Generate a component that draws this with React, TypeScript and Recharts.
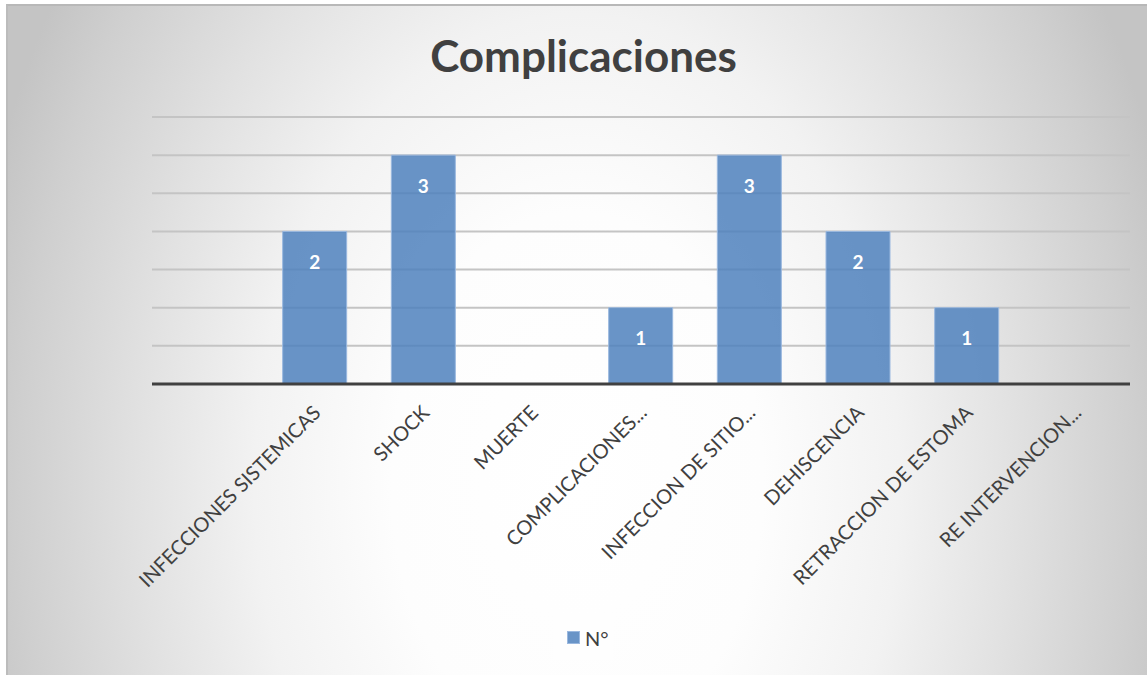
import React from 'react';
import { BarChart, Bar, XAxis, YAxis, CartesianGrid, LabelList, Legend } from 'recharts';

const title = 'Complicaciones';
const seriesName = 'N°';
const categories = [
  '',
  'INFECCIONES SISTEMICAS',
  'SHOCK',
  'MUERTE',
  'COMPLICACIONES...',
  'INFECCION DE SITIO...',
  'DEHISCENCIA',
  'RETRACCION DE ESTOMA',
  'RE INTERVENCION...',
];
const values: (number | null)[] = [null, 2, 3, null, 1, 3, 2, 1, null];
const yTicks = [0, 0.5, 1, 1.5, 2, 2.5, 3, 3.5];

const data = categories.map((c, i) => ({ name: c, value: values[i] }));

const FONT = 'Lato, "Open Sans", sans-serif';
const TEXT = '#404040';

const Tick = (props: any) => {
  const { x, y, payload } = props;
  return (
    <g transform={`translate(${x + 7},${y + 30})`}>
      <text
        transform="rotate(-45)"
        textAnchor="end"
        fill={TEXT}
        fontSize={20}
        fontFamily={FONT}
      >
        {payload.value}
      </text>
    </g>
  );
};

const renderLabel = (props: any) => {
  const { x, y, width, value } = props;
  if (value === null || value === undefined) return null;
  return (
    <text
      x={Number(x) + Number(width) / 2}
      y={Number(y) + 30}
      fill="#ffffff"
      fontSize={19}
      fontWeight="bold"
      fontFamily={FONT}
      textAnchor="middle"
      dominantBaseline="central"
    >
      {value}
    </text>
  );
};

const LegendContent = () => (
  <div
    style={{
      width: 60,
      height: 45,
      background: 'rgba(255,255,255,0.35)',
      display: 'flex',
      alignItems: 'center',
      fontFamily: FONT,
      fontSize: 20,
      color: TEXT,
    }}
  >
    <span
      style={{
        display: 'inline-block',
        width: 11,
        height: 11,
        background: 'rgba(79,129,189,0.85)',
        border: '1px solid #9ab8df',
        marginLeft: 14,
        marginRight: 5,
      }}
    />
    <span>{seriesName}</span>
  </div>
);

export default function App() {
  return (
    <div style={{ position: 'absolute', left: 0, top: 0, width: 1147, height: 675, background: '#fff' }}>
      <div
        style={{
          position: 'absolute',
          left: 6,
          top: 4,
          width: 1141,
          height: 671,
          boxSizing: 'border-box',
          borderTop: '2px solid #b8b8b8',
          borderLeft: '2px solid #bcbcbc',
          background:
            'radial-gradient(ellipse 620px 900px at 569px 476px, #ffffff 0%, #fdfdfd 30%, #f2f2f2 52%, #e2e2e2 70%, #cfcfcf 90%, #c4c4c4 100%)',
        }}
      />
      <div
        style={{
          position: 'absolute',
          left: 0,
          top: 33,
          width: 1167,
          textAlign: 'center',
          fontFamily: FONT,
          fontWeight: 'bold',
          fontSize: 44,
          lineHeight: '44px',
          color: TEXT,
        }}
      >
        {title}
      </div>
      <div style={{ position: 'absolute', left: 6, top: 4 }}>
        <BarChart
          width={1141}
          height={671}
          data={data}
          margin={{ top: 113, right: 17, bottom: 46, left: 146 }}
          barCategoryGap="20%"
        >
          <CartesianGrid vertical={false} stroke="#c4c4c4" strokeWidth={2} />
          <YAxis hide domain={[0, 3.5]} ticks={yTicks} />
          <XAxis
            dataKey="name"
            height={200}
            tick={<Tick />}
            tickLine={false}
            tickSize={0}
            tickMargin={0}
            interval={0}
            axisLine={{ stroke: '#404040', strokeWidth: 3 }}
          />
          <Legend
            content={<LegendContent />}
            wrapperStyle={{ position: 'absolute', left: 547, top: 611, width: 60, height: 45 }}
          />
          <Bar
            dataKey="value"
            name={seriesName}
            fill="#4f81bd"
            fillOpacity={0.85}
            stroke="#9ab8df"
            strokeWidth={1}
            barSize={64}
            isAnimationActive={false}
          >
            <LabelList dataKey="value" content={renderLabel} />
          </Bar>
        </BarChart>
      </div>
    </div>
  );
}
